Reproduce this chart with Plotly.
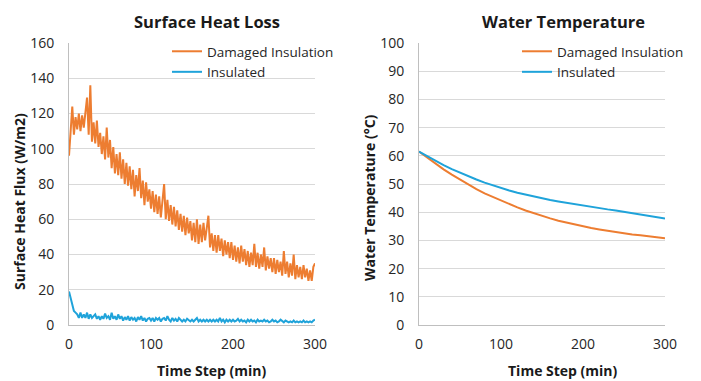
import plotly.graph_objects as go

# The page body adds an 8 px margin, so the figure is drawn 8 px in from the
# top-left corner of the 701x381 window; all positions below are in window pixels.
WIN_W, WIN_H = 701, 381
OFF = 8
W, H = WIN_W - OFF, WIN_H - OFF

# ---------------- data ----------------
flux_time = list(range(0, 301, 2))
flux_damaged = [
    96, 112, 124, 108, 118, 111, 120, 110, 119, 112,
    122, 129, 108, 136, 104, 115, 103, 116, 101, 109,
    97, 107, 94, 112, 95, 105, 89, 101, 86, 97,
    85, 98, 83, 94, 80, 92, 79, 90, 77, 88,
    73, 85, 76, 89, 72, 82, 68, 81, 70, 77,
    66, 76, 64, 74, 63, 73, 61, 71, 80, 60,
    71, 59, 68, 57, 67, 56, 65, 54, 63, 53,
    62, 51, 61, 52, 59, 48, 58, 47, 60, 46,
    57, 47, 58, 48, 54, 62, 44, 52, 42, 51,
    41, 51, 42, 49, 39, 48, 40, 47, 38, 47,
    37, 45, 36, 44, 35, 45, 36, 43, 34, 42,
    33, 41, 34, 46, 33, 41, 32, 40, 33, 44,
    31, 39, 32, 38, 30, 38, 29, 37, 30, 36,
    28, 42, 29, 36, 27, 35, 28, 40, 26, 34,
    27, 33, 26, 34, 27, 32, 25, 31, 25, 33,
    35,
]
flux_insulated = [
    19, 15, 11, 8, 7, 6, 4, 7, 4, 6,
    4, 7, 3.5, 6, 4, 5, 6, 3.5, 5, 3,
    5, 3.5, 6.5, 4, 5, 3, 7, 3.5, 5, 3,
    6, 3.5, 5, 2.5, 4.5, 3, 5, 2.5, 4.5, 3,
    4, 2, 4.5, 3, 5, 2.5, 4, 2, 3.5, 4,
    2.5, 4, 2, 4, 3, 4, 2, 3.5, 4, 2.5,
    5, 3, 2, 4, 2.5, 3.5, 2, 4, 3, 2,
    3, 2, 3.5, 2.5, 2, 3, 2, 3, 4, 2,
    3, 2, 3, 2, 3, 2, 3, 2, 3, 2,
    3, 2, 4, 2, 3, 1.5, 3, 2, 3, 2,
    3, 2, 2.5, 3.5, 2, 3, 2, 2.5, 1.5, 3,
    2, 3, 2, 2.5, 1.5, 3, 2, 2.5, 2, 3,
    2, 2.5, 1.5, 2, 3, 2, 2.5, 1.5, 2, 3,
    2, 1.5, 2.5, 2, 1.5, 2, 1.5, 2.5, 1.5, 2,
    1.5, 2, 1.5, 2.5, 1.5, 2, 1.5, 2, 1.5, 2.5,
    3,
]

temp_time = list(range(0, 301, 10))
temp_damaged = [
    61.5, 59.3, 57.2, 55.2, 53.3, 51.5, 49.8, 48.2, 46.7, 45.4,
    44.2, 42.9, 41.7, 40.6, 39.6, 38.6, 37.8, 37.0, 36.3, 35.6,
    35.0, 34.4, 33.9, 33.4, 32.9, 32.5, 32.1, 31.8, 31.4, 31.1,
    30.8,
]
temp_insulated = [
    61.5, 59.8, 58.2, 56.7, 55.3, 54.0, 52.8, 51.6, 50.5, 49.5,
    48.5, 47.7, 46.9, 46.2, 45.5, 44.9, 44.3, 43.8, 43.3, 42.8,
    42.4, 42.0, 41.5, 41.0, 40.6, 40.1, 39.6, 39.1, 38.7, 38.3,
    37.8,
]

series_names = ["Damaged Insulation", "Insulated"]
panel_titles = ["Surface Heat Loss", "Water Temperature"]
y_titles = ["Surface Heat Flux (W/m2)", "Water Temperature (°C)"]
x_title = "Time Step (min)"
x_ticks = [0, 100, 200, 300]
flux_ticks = list(range(0, 161, 20))
temp_ticks = list(range(0, 101, 10))

# ---------------- style ----------------
ORANGE = "#ED7D31"
BLUE = "#1FA3DA"
FONT = "Open Sans"
TXT = "#262626"

def px(x):
    return (x - OFF) / W

def py(y):
    return 1 - (y - OFF) / H

fig = go.Figure()

fig.add_trace(go.Scatter(x=flux_time, y=flux_damaged, mode="lines", name=series_names[0],
                         line=dict(color=ORANGE, width=2), xaxis="x", yaxis="y", legend="legend"))
fig.add_trace(go.Scatter(x=flux_time, y=flux_insulated, mode="lines", name=series_names[1],
                         line=dict(color=BLUE, width=2), xaxis="x", yaxis="y", legend="legend"))
fig.add_trace(go.Scatter(x=temp_time, y=temp_damaged, mode="lines", name=series_names[0],
                         line=dict(color=ORANGE, width=2), xaxis="x2", yaxis="y2", legend="legend2"))
fig.add_trace(go.Scatter(x=temp_time, y=temp_insulated, mode="lines", name=series_names[1],
                         line=dict(color=BLUE, width=2), xaxis="x2", yaxis="y2", legend="legend2"))

ydom = [py(325), py(43)]
common_x = dict(range=[0, 300], tickvals=x_ticks, showgrid=False, zeroline=False,
                showline=True, linecolor="#BFBFBF", linewidth=1, ticks="", automargin=False,
                tickfont=dict(family=FONT, size=14, color=TXT), ticklabelstandoff=6)
common_y = dict(showgrid=True, gridcolor="#D9D9D9", gridwidth=1, zeroline=False,
                showline=True, linecolor="#BFBFBF", linewidth=1, ticks="", automargin=False,
                tickfont=dict(family=FONT, size=14, color=TXT), ticklabelstandoff=11)

legend_common = dict(bgcolor="rgba(0,0,0,0)", font=dict(family=FONT, size=13.5, color=TXT),
                     xanchor="left", yanchor="top", itemwidth=30, tracegroupgap=0)

fig.update_layout(
    width=W, height=H,
    margin=dict(l=0, r=0, t=0, b=0, autoexpand=False),
    paper_bgcolor="white", plot_bgcolor="white",
    font=dict(family=FONT, color=TXT),
    xaxis=dict(domain=[px(69), px(315)], anchor="y", **common_x),
    yaxis=dict(domain=ydom, anchor="x", range=[0, 160], tickvals=flux_ticks, **common_y),
    xaxis2=dict(domain=[px(419), px(665)], anchor="y2", **common_x),
    yaxis2=dict(domain=ydom, anchor="x2", range=[0, 100], tickvals=temp_ticks, **common_y),
    legend=dict(x=px(167), y=py(36), **legend_common),
    legend2=dict(x=px(517), y=py(36), **legend_common),
)

for xc, t in ((207, panel_titles[0]), (563, panel_titles[1])):
    fig.add_annotation(text="<b>%s</b>" % t, x=px(xc), y=py(8.5), xref="paper", yref="paper",
                       xanchor="center", yanchor="top", showarrow=False, borderpad=0,
                       font=dict(family=FONT, size=16.5, color="#1a1a1a"))

for xc in (212, 563):
    fig.add_annotation(text="<b>%s</b>" % x_title, x=px(xc), y=py(370), xref="paper", yref="paper",
                       xanchor="center", yanchor="middle", showarrow=False,
                       font=dict(family=FONT, size=14, color="#1a1a1a"))

for xc, yc, t in ((19, 202, y_titles[0]), (369, 198, y_titles[1])):
    fig.add_annotation(text="<b>%s</b>" % t, x=px(xc), y=py(yc), xref="paper", yref="paper",
                       xanchor="center", yanchor="middle", showarrow=False, textangle=-90,
                       font=dict(family=FONT, size=14, color="#1a1a1a"))

fig.write_html("out.html")
